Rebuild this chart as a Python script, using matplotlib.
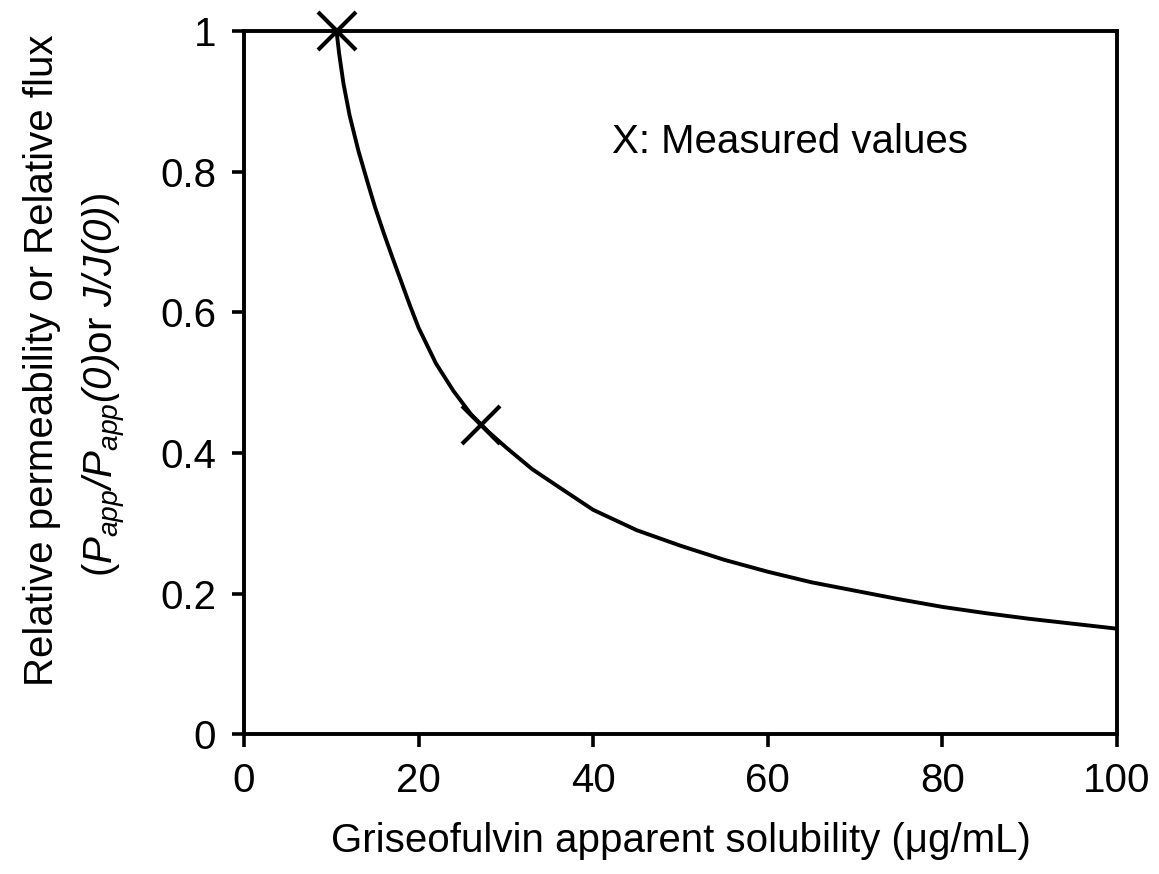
import matplotlib
matplotlib.use("Agg")
import matplotlib.pyplot as plt

plt.rcParams['font.family'] = ['Liberation Sans', 'DejaVu Sans']
plt.rcParams['mathtext.fontset'] = 'custom'
plt.rcParams['mathtext.rm'] = 'Liberation Sans:italic'
plt.rcParams['mathtext.it'] = 'Liberation Sans:italic'

# curve (solubility in ug/mL, relative permeability)
solubility = [10.6, 10.9, 11.4, 12.1, 13.1, 14.2, 15.0, 16.0, 17.0, 18.0, 19.0,
              20.0, 22.0, 24.0, 26.0, 28.0, 30.0, 33.0, 36.0, 40.0, 45.0, 50.0,
              55.0, 60.0, 65.0, 70.0, 75.0, 80.0, 85.0, 90.0, 95.0, 100.0]
rel_perm = [1.0, 0.968, 0.925, 0.88, 0.83, 0.783, 0.75, 0.713, 0.678, 0.644, 0.61,
            0.578, 0.527, 0.488, 0.455, 0.43, 0.408, 0.377, 0.352, 0.319, 0.29, 0.268,
            0.248, 0.231, 0.216, 0.204, 0.192, 0.181, 0.172, 0.164, 0.157, 0.150]

# measured values (X markers)
meas_x = [10.6, 27.2]
meas_y = [1.0, 0.44]

xticks = [0, 20, 40, 60, 80, 100]
yticks = [0, 0.2, 0.4, 0.6, 0.8, 1]
ytick_labels = ['0', '0.2', '0.4', '0.6', '0.8', '1']

fig = plt.figure(figsize=(11.59, 8.74), dpi=100)
ax = fig.add_axes([0.2105, 0.160, 0.7533, 0.8045])

ax.plot(solubility, rel_perm, color='black', lw=2.8, solid_joinstyle='round')
ax.plot(meas_x, meas_y, linestyle='none', marker='x', color='black',
        markersize=27, markeredgewidth=3, clip_on=False, zorder=5)

ax.set_xlim(0, 100)
ax.set_ylim(0, 1)
ax.set_xticks(xticks)
ax.set_yticks(yticks)
ax.set_yticklabels(ytick_labels)
for s in ax.spines.values():
    s.set_linewidth(2.8)
ax.tick_params(direction='out', length=9, width=2.6, labelsize=29, pad=11)

ax.set_xlabel('Griseofulvin apparent solubility (\u03bcg/mL)', fontsize=29, labelpad=16)

fig.text(0.036, 0.588, 'Relative permeability or Relative flux',
         rotation=90, ha='center', va='center', fontsize=29)
fig.text(0.090, 0.560,
         r'($P_{app}/P_{app}(0)$or $J/J(0)$)',
         rotation=90, ha='center', va='center', fontsize=29)

ax.text(42.2, 0.842, 'X: Measured values', fontsize=29, ha='left', va='center')

fig.savefig('out.png', dpi=100)
